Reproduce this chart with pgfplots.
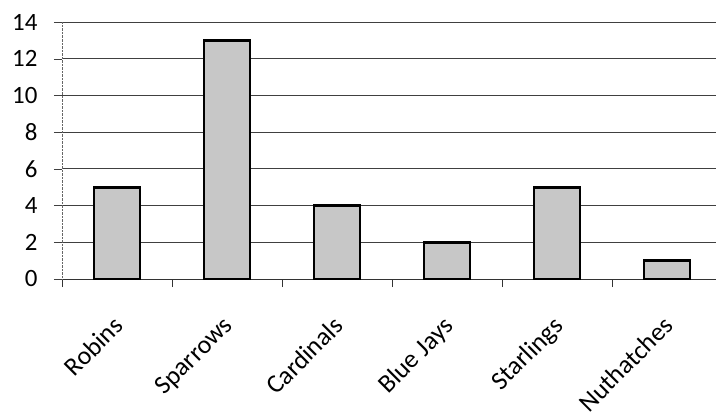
\documentclass[border=0pt]{standalone}
\usepackage{fontspec}
\setmainfont{Carlito}
\usepackage{pgfplots}
\pgfplotsset{compat=1.18}
\usetikzlibrary{calc}

\begin{document}
\begin{tikzpicture}
\begin{axis}[
    scale only axis,
    width=654bp, height=257bp,
    xmin=-0.5, xmax=5.445,
    ymin=0, ymax=14,
    ytick={0,2,...,14},
    xtick={0,1,2,3,4,5},
    xticklabels={Robins, Sparrows, Cardinals, Blue Jays, Starlings, Nuthatches},
    minor xtick={-0.5,0.5,...,5.5},
    x tick style={draw=none},
    minor x tick style={draw=black!80, line width=0.8pt},
    minor tick length=8bp,
    major tick length=8bp,
    y tick style={black!75, thin},
    tick align=outside,
    axis x line*=bottom,
    axis y line*=left,
    x axis line style={black!80, thin, -},
    y axis line style={black!60, densely dotted, -},
    ymajorgrids,
    grid style={black!75, line width=0.8pt},
    /pgf/number format/assume math mode=true,
    yticklabel style={xshift=-13bp, font=\fontsize{25}{27}\selectfont},
    xticklabel style={xshift=-5bp, yshift=-23bp, rotate=45, anchor=north east,
                      font=\fontsize{26}{28}\selectfont},
    ybar, bar width=46bp,
]
    \addplot [draw=black, line width=2.8bp, fill=black!22] coordinates {
        (0, 5)
        (1, 13)
        (2, 4)
        (3, 2)
        (4, 5)
        (5, 1)
    };
\end{axis}
\pgfresetboundingbox
\path ($(current axis.south west)+(-62bp,-135bp)$) rectangle ($(current axis.north east)+(0bp,22bp)$);
\end{tikzpicture}
\end{document}
